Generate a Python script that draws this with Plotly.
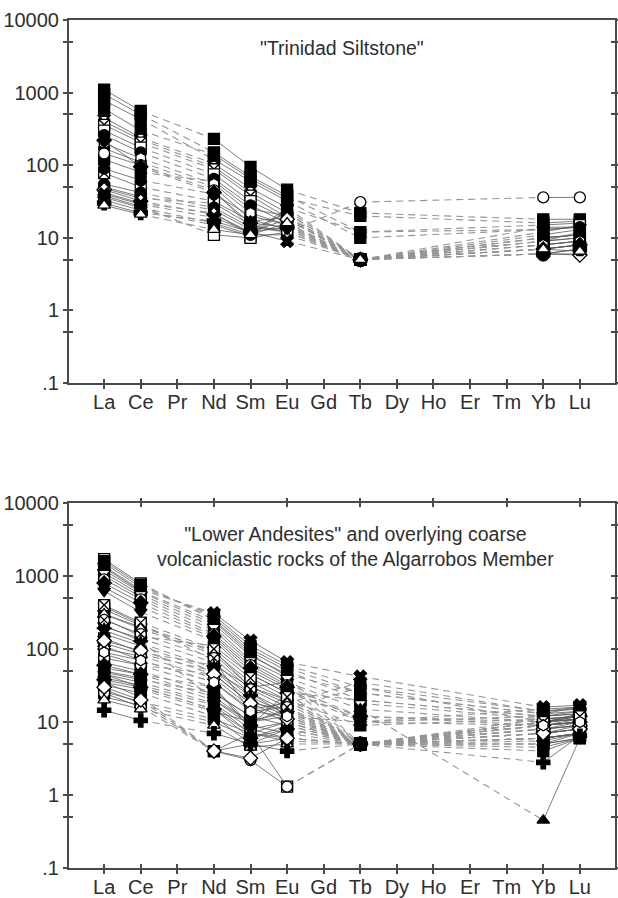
import plotly.graph_objects as go

ELEMENTS = ["La", "Ce", "Pr", "Nd", "Sm", "Eu", "Gd", "Tb", "Dy", "Ho", "Er", "Tm", "Yb", "Lu"]
MEASURED = ["La", "Ce", "Nd", "Sm", "Eu", "Tb", "Yb", "Lu"]
SOLID_PAIRS = [("La", "Ce"), ("Nd", "Sm"), ("Sm", "Eu"), ("Yb", "Lu")]
DASHED_PAIRS = [("Ce", "Nd"), ("Eu", "Tb"), ("Tb", "Yb")]

Y_TICKVALS = [0.1, 0.5, 1, 5, 10, 50, 100, 500, 1000, 5000, 10000]
Y_TICKTEXT = [".1", "", "1", "", "10", "", "100", "", "1000", "", "10000"]

TOP_TITLE = '"Trinidad Siltstone"'
BOT_TITLE = '"Lower Andesites" and overlying coarse<br>volcaniclastic rocks of the Algarrobos Member'

# ---- "Trinidad Siltstone" (chondrite-normalised) ----
TOP_SYM = ["sq", "sq", "sq", "tdn", "cxo", "sxo", "sqo", "ci", "hxo", "ci",
           "cio", "dm", "sxo", "ci", "ci", "dmo", "x", "tdn", "sq", "cr",
           "tuo", "sqo", "sq", "ci", "sq", "sq", "ci"]
TOP_LA = [1100, 950, 780, 450, 400, 360, 300, 260, 200, 170, 145, 220, 78, 55, 50, 46, 40, 36, 33, 30, 28, 38, 48, 42, 120, 600, 90]
TOP_CE = [560, 500, 430, 240, 225, 205, 175, 150, 125, 110, 100, 95, 50, 42, 37, 32, 29, 26, 24, 22, 21, 27, 35, 30, 80, 300, 62]
TOP_ND = [230, 150, 120, 105, 95, 88, 75, 65, 55, 50, 45, 42, 32, 26, 24, 21, 19, 16, 15, 17, 13, 11, 30, 22, 60, 140, 40]
TOP_SM = [95, 70, 60, 48, 42, 38, 32, 28, 22, 18, 14, 16, 17, 14, 13, 12, 12, 11, 10.5, 12, 11, 10, 15, 11, 25, 65, 20]
TOP_EU = [46, 38, 32, 26, 22, 19, 18, 16, 15, 13, 12, 14, 19, 13, 22, 18, 9, 26, 24, 14, 16, 12, 12, 11, 20, 35, 15]
TOP_TB = [22, 12, 10, 12, 5, 5, 5, 5, 5, 5, 31, 5, 5, 5, 5, 5, 5, 5, 5, 5, 5, 5, 5, 5, 5, 20, 5]
TOP_YB = [18, 15, 13, 13, 9, 10, 12, 11, 8, 10, 36, 7, 9, 8, 7, 6, 6, 7, 8, 6, 7, 9, 10, 6, 7, 16, 14]
TOP_LU = [18, 16, 14, 14, 12, 11, 15, 13, 9, 11, 36, 8, 10, 9, 8, 5.8, 7, 8, 9, 7, 6.5, 10, 11, 6, 8, 17, 14]

# ---- "Lower Andesites" + Algarrobos Member ----
BOT_SYM = ["sqo", "sq", "x", "ci", "tdo", "sq", "cio", "dm", "hx", "tdn",
           "sxo", "sq", "tuo", "cxo", "ci", "st", "tup", "dmo", "cio", "hxo",
           "cio", "sq", "sq", "ci", "tdn", "sq", "dm", "ci", "sq", "tuo",
           "cr", "sqo", "cio", "dmo", "sq", "tup", "x", "sq", "ci", "x",
           "sqo", "sq", "ci", "sq", "dm", "ci", "sq", "sq", "tdn", "x"]
BOT_LA = [1700, 1500, 1350, 1200, 1100, 1000, 900, 800, 700, 620,
          400, 350, 300, 250, 200, 180, 160, 130, 100, 90,
          75, 65, 55, 50, 45, 40, 38, 35, 32, 20,
          14.5, 28, 25, 30, 35, 45, 120, 260, 85, 110,
          140, 1600, 1300, 48, 60, 22, 26, 380, 210, 300]
BOT_CE = [790, 700, 650, 600, 560, 520, 480, 430, 380, 320,
          230, 210, 190, 160, 140, 120, 110, 95, 80, 70,
          60, 50, 45, 40, 35, 32, 30, 28, 25, 15,
          10.5, 18, 16, 20, 22, 30, 85, 150, 60, 70,
          90, 750, 620, 38, 45, 17, 19, 220, 130, 200]
BOT_ND = [250, 290, 310, 220, 200, 180, 160, 150, 140, 130,
          100, 90, 85, 75, 65, 55, 50, 45, 40, 35,
          30, 25, 22, 20, 18, 17, 15, 14, 12, 9,
          7, 4, 4, 4, 4, 15, 50, 110, 45, 35,
          60, 270, 240, 25, 30, 10, 11, 70, 20, 95]
BOT_SM = [92, 110, 130, 80, 70, 65, 60, 55, 50, 45,
          40, 35, 30, 28, 25, 22, 20, 18, 16, 14,
          8, 12, 10, 9, 8, 7, 6, 10, 5, 4.5,
          5, 7, 3, 3.2, 5, 7, 25, 45, 18, 15,
          30, 100, 85, 12, 9, 6, 7, 14, 10, 30]
BOT_EU = [50, 60, 66, 45, 40, 35, 32, 30, 28, 25,
          22, 20, 18, 16, 14, 13, 12, 11, 10, 12,
          10, 9, 15, 7, 6, 5.5, 8, 12, 6, 5,
          4, 1.3, 1.3, 6, 8, 6, 12, 25, 15, 18,
          20, 55, 42, 20, 25, 9, 10, 16, 14, 35]
BOT_TB = [20, 30, 42, 25, 18, 15, 5, 12, 10, 5,
          5, 9, 5, 5, 5, 5, 5, 5, 5, 5,
          5, 5, 5, 5, 5, 5, 5, 5, 5, 5,
          5, 5, 5, 5, 5, 15, 10, 20, 30, 35,
          5, 25, 5, 5, 12, 5, 5, 5, 5, 10]
BOT_YB = [12, 14, 16, 13, 11, 10, 9, 10, 9, 8,
          10, 11, 9, 8, 10, 7, 6, 8, 7, 9,
          6, 5, 8, 6, 4.5, 4, 7, 9, 5, 6,
          2.8, 10, 9, 7, 6, 0.45, 12, 12, 10, 14,
          10, 13, 10, 11, 9, 5.5, 6, 7, 5, 15]
BOT_LU = [13, 15, 17, 14, 12, 11, 10, 12, 11, 10,
          12, 12, 10, 9, 11, 8, 7, 9, 8, 10,
          7, 6, 9, 7, 6, 6, 8, 10, 6, 7,
          6.5, 11, 10, 8, 7, 6, 14, 13, 12, 16,
          11, 16, 13, 12, 10, 7, 7, 9, 7, 16]

# ---- styles ----
STYLES = {
    "sq": ("square", "black"), "sqo": ("square", "white"),
    "ci": ("circle", "black"), "cio": ("circle", "white"),
    "sxo": ("square-x", "white"), "cxo": ("circle-x", "white"),
    "tdn": ("triangle-down", "black"), "tdo": ("triangle-down", "white"),
    "tup": ("triangle-up", "black"), "tuo": ("triangle-up", "white"),
    "dm": ("diamond", "black"), "dmo": ("diamond", "white"),
    "hx": ("hexagon", "black"), "hxo": ("hexagon", "white"),
    "x": ("x", "black"), "cr": ("cross", "black"), "st": ("star", "black"),
}
FONT = "Liberation Sans, Arial, Helvetica, sans-serif"
AX_COLOR = "#4a4a4a"
TXT_COLOR = "#2e2e2e"
XR = [-0.96, 13.96]
YR = [-1, 4]


def panel_traces(cols, syms, xa, ya):
    samples = list(zip(*cols))
    traces = []
    for pairs, dash, color, width in [(DASHED_PAIRS, "7px,5px", "#959595", 1.1),
                                      (SOLID_PAIRS, "solid", "#5a5a5a", 0.8)]:
        xs, ys = [], []
        for s in samples:
            v = dict(zip(MEASURED, s))
            for a, b in pairs:
                xs += [ELEMENTS.index(a), ELEMENTS.index(b), None]
                ys += [v[a], v[b], None]
        traces.append(go.Scatter(x=xs, y=ys, mode="lines",
                                 line=dict(color=color, width=width, dash=dash),
                                 xaxis=xa, yaxis=ya, hoverinfo="skip", showlegend=False))
    for key in dict.fromkeys(syms):
        sym, fill = STYLES[key]
        xs, ys = [], []
        for s, k in zip(samples, syms):
            if k != key:
                continue
            for el, val in zip(MEASURED, s):
                xs.append(ELEMENTS.index(el))
                ys.append(val)
        traces.append(go.Scatter(x=xs, y=ys, mode="markers",
                                 marker=dict(symbol=sym, color=fill, size=11,
                                             line=dict(color="black", width=1.3)),
                                 xaxis=xa, yaxis=ya, hoverinfo="skip", showlegend=False))
    return traces


fig = go.Figure()
for t in panel_traces([TOP_LA, TOP_CE, TOP_ND, TOP_SM, TOP_EU, TOP_TB, TOP_YB, TOP_LU], TOP_SYM, "x", "y"):
    fig.add_trace(t)
for t in panel_traces([BOT_LA, BOT_CE, BOT_ND, BOT_SM, BOT_EU, BOT_TB, BOT_YB, BOT_LU], BOT_SYM, "x2", "y2"):
    fig.add_trace(t)

# invisible traces so overlay axes (used for crossing ticks) are drawn
for xa, ya in [("x3", "y3"), ("x4", "y4"), ("x5", "y2"), ("x6", "y2")]:
    fig.add_trace(go.Scatter(x=[0], y=[1], mode="markers", marker=dict(opacity=0),
                             xaxis=xa, yaxis=ya, hoverinfo="skip", showlegend=False))

tickfont = dict(family=FONT, size=20, color=TXT_COLOR)
base = dict(showgrid=False, zeroline=False, tickcolor=AX_COLOR, tickwidth=1.5, ticklen=4,
            automargin=False)
xbase = dict(base, range=XR, tickmode="array", tickvals=list(range(len(ELEMENTS))))
ybase = dict(base, type="log", range=YR, tickmode="array", tickvals=Y_TICKVALS)
line = dict(showline=True, linecolor=AX_COLOR, linewidth=2)

TOP_DOM = [0.5719, 1.0]
BOT_DOM = [0.0, 0.4304]
ODD = [i for i in range(len(ELEMENTS)) if i % 2 == 1]

fig.update_layout(
    width=618, height=898,
    margin=dict(l=69, r=3, t=20, b=30),
    paper_bgcolor="white", plot_bgcolor="white",
    showlegend=False,
    xaxis=dict(xbase, **line, anchor="y", ticks="outside", mirror=True,
               ticktext=ELEMENTS, tickfont=tickfont, ticklabelstandoff=-4),
    yaxis=dict(ybase, **line, domain=TOP_DOM, anchor="x", ticks="outside", mirror="ticks",
               ticktext=Y_TICKTEXT, tickfont=tickfont),
    xaxis3=dict(xbase, overlaying="x", anchor="y", ticks="inside", showticklabels=False),
    yaxis3=dict(ybase, **line, overlaying="y", anchor="x", ticks="inside", mirror="ticks",
                showticklabels=False),
    xaxis2=dict(xbase, **line, anchor="y2", ticks="outside", mirror=True,
                ticktext=ELEMENTS, tickfont=tickfont, ticklabelstandoff=-4),
    yaxis2=dict(ybase, **line, domain=BOT_DOM, anchor="x2", ticks="outside", mirror="ticks",
                ticktext=Y_TICKTEXT, tickfont=tickfont),
    xaxis4=dict(xbase, overlaying="x2", anchor="y2", ticks="inside", showticklabels=False),
    yaxis4=dict(ybase, **line, overlaying="y2", anchor="x2", ticks="inside", mirror="ticks",
                showticklabels=False),
    xaxis5=dict(base, range=XR, tickmode="array", tickvals=ODD, overlaying="x2", anchor="y2",
                side="top", ticks="outside", showticklabels=False),
    xaxis6=dict(base, range=XR, tickmode="array", tickvals=ODD, overlaying="x2", anchor="y2",
                side="top", ticks="inside", showticklabels=False),
    annotations=[
        dict(text=TOP_TITLE, xref="x domain", yref="y domain", x=0.5, y=0.923,
             xanchor="center", yanchor="middle", showarrow=False,
             font=dict(family=FONT, size=19.5, color=TXT_COLOR)),
        dict(text=BOT_TITLE, xref="x2 domain", yref="y2 domain", x=0.524, y=0.88,
             xanchor="center", yanchor="middle", showarrow=False, align="center",
             font=dict(family=FONT, size=19.5, color=TXT_COLOR)),
    ],
)

fig.write_html("out.html", config={"displayModeBar": False},
               post_script="document.body.style.margin='0';document.body.style.overflow='hidden';")
